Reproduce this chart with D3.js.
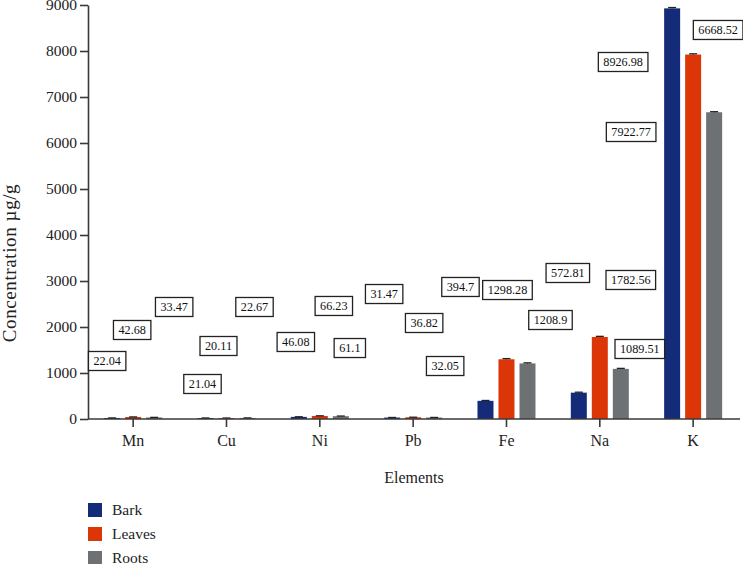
<!DOCTYPE html>
<html>
<head>
<meta charset="utf-8">
<script src="https://cdn.jsdelivr.net/npm/d3@7"></script>
<style>
  body { margin: 0; background: #fff; }
  svg, svg text { font-family: "Liberation Serif", "DejaVu Serif", serif !important; }
</style>
</head>
<body>
<svg id="chart" width="743" height="564"></svg>
<script>
// ---- data ----
const categories = ["Mn", "Cu", "Ni", "Pb", "Fe", "Na", "K"];
const series = ["Bark", "Leaves", "Roots"];
const barkValues   = [22.04, 21.04, 46.08, 31.47, 394.7, 572.81, 8926.98];
const leavesValues = [42.68, 20.11, 66.23, 36.82, 1298.28, 1782.56, 7922.77];
const rootsValues  = [33.47, 22.67, 61.1, 32.05, 1208.9, 1089.51, 6668.52];
const barkErrors   = [1.5, 1.2, 2.5, 1.8, 8, 10, 18];
const leavesErrors = [2.5, 1.1, 3.5, 2.0, 15, 14, 16];
const rootsErrors  = [2.0, 1.3, 3.2, 1.9, 12, 11, 12];
const yTicks = [0, 1000, 2000, 3000, 4000, 5000, 6000, 7000, 8000, 9000];
const colors = ["#142b7a", "#db3508", "#6e7174"];

// label placement (value units for height, pixel nudge relative to bar centre)
const labelLevels = [
  [1261, 1935, 2435], [761, 1587, 2435], [1674, 2457, 1543], [2717, 2087, 1152],
  [2870, 2804, 2152], [3174, 3022, 1522], [7761, 6239, 8457]
];
const labelNudges = [
  [-5, -1, 20], [-3, -8, 7], [-3, 14, 9], [-8, 11, 11],
  [-25, 1, 23], [-11, 31, 19], [-49, -62, 4]
];

const valuesBySeries = [barkValues, leavesValues, rootsValues];
const errorsBySeries = [barkErrors, leavesErrors, rootsErrors];

// ---- layout ----
const svg = d3.select("#chart");
const x0 = 88, yBase = 419, yTop = 5;
const serif = '"Liberation Serif", "DejaVu Serif", serif';

const x = d3.scaleBand().domain(categories).range([86.5, 739.8]).paddingInner(0).paddingOuter(0);
const xs = d3.scaleBand().domain(series).range([-29, 29]).paddingInner(5 / 21).paddingOuter(0);
const y = d3.scaleLinear().domain([0, 9000]).range([yBase, yTop]);

const axisColor = "#3a3a3a";

// y axis
const yAxis = svg.append("g").attr("transform", `translate(${x0},0)`)
  .call(d3.axisLeft(y).tickValues(yTicks).tickSize(8).tickSizeOuter(0).tickFormat(d3.format("d")));
yAxis.attr("font-family", serif);
yAxis.select(".domain").attr("stroke", axisColor).attr("stroke-width", 1.6);
yAxis.selectAll(".tick line").attr("stroke", axisColor).attr("stroke-width", 1.6);
yAxis.selectAll(".tick text").style("font-family", serif).attr("font-size", 15.5)
  .attr("fill", "#222").attr("x", -11);

// bars
const data = [];
categories.forEach((c, i) => {
  series.forEach((s, j) => {
    data.push({ c, s, j, v: valuesBySeries[j][i], e: errorsBySeries[j][i],
      ly: labelLevels[i][j], ln: labelNudges[i][j] });
  });
});

const barW = xs.bandwidth();
const cx = d => x(d.c) + x.bandwidth() / 2 + xs(d.s) + barW / 2;

svg.append("g").selectAll("rect").data(data).join("rect")
  .attr("x", d => cx(d) - barW / 2)
  .attr("y", d => y(d.v))
  .attr("width", barW)
  .attr("height", d => yBase - y(d.v))
  .attr("fill", d => colors[d.j]);

// error bars
const eg = svg.append("g").attr("stroke", "#222").attr("stroke-width", 1.3);
eg.selectAll("line.v").data(data).join("line").attr("class", "v")
  .attr("x1", cx).attr("x2", cx).attr("y1", d => y(d.v)).attr("y2", d => y(d.v + d.e));
eg.selectAll("line.c").data(data).join("line").attr("class", "c")
  .attr("x1", d => cx(d) - 4).attr("x2", d => cx(d) + 4)
  .attr("y1", d => y(d.v + d.e)).attr("y2", d => y(d.v + d.e));

// x axis
const xAxis = svg.append("g").attr("transform", `translate(0,${yBase})`)
  .call(d3.axisBottom(x).tickSize(8).tickSizeOuter(0));
xAxis.attr("font-family", serif);
xAxis.select(".domain").attr("d", `M${x0},0H740`).attr("stroke", axisColor).attr("stroke-width", 1.6);
xAxis.selectAll(".tick line").attr("stroke", axisColor).attr("stroke-width", 1.6);
xAxis.selectAll(".tick text").style("font-family", serif).attr("font-size", 16)
  .attr("fill", "#222").attr("y", 16);

// value labels in boxes
const lg = svg.append("g");
data.forEach(d => {
  const g = lg.append("g");
  const tx = cx(d) + d.ln, ty = y(d.ly);
  const t = g.append("text").attr("x", tx).attr("y", ty + 4.2)
    .attr("text-anchor", "middle").attr("font-size", 12.2).attr("fill", "#111")
    .style("font-family", serif)
    .text(d3.format("")(d.v));
  const bb = t.node().getBBox();
  g.insert("rect", "text")
    .attr("x", tx - bb.width / 2 - 5).attr("y", ty - 9.5)
    .attr("width", bb.width + 10).attr("height", 19)
    .attr("fill", "#fff").attr("stroke", "#222").attr("stroke-width", 1.3);
});

// axis titles
svg.append("text").attr("x", 414).attr("y", 483).attr("text-anchor", "middle")
  .style("font-family", serif).attr("font-size", 16).attr("fill", "#222").text("Elements");
svg.append("text").attr("transform", "translate(16,263) rotate(-90)")
  .attr("text-anchor", "middle").attr("font-size", 19).attr("letter-spacing", 0.6)
  .style("font-family", serif).attr("fill", "#222").text("Concentration µg/g");

// legend
const leg = svg.append("g").selectAll("g").data(series).join("g")
  .attr("transform", (d, i) => `translate(88,${503 + i * 24})`);
leg.append("rect").attr("width", 14).attr("height", 14).attr("fill", (d, i) => colors[i]);
leg.append("text").attr("x", 24).attr("y", 11.5).attr("font-size", 15.5).attr("fill", "#222")
  .style("font-family", serif).text(d => d);
</script>
</body>
</html>
